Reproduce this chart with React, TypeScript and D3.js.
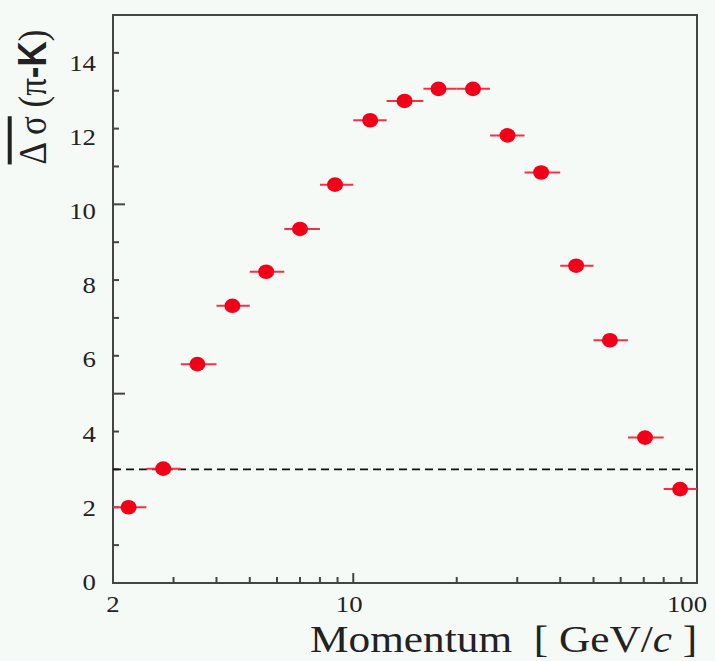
import React from 'react'
import * as d3 from 'd3'

// pion-kaon separation vs momentum
const momentum = [2.22, 2.8, 3.52, 4.45, 5.58, 7.0, 8.85, 11.2, 14.1, 17.7, 22.3, 28.1, 35.2, 44.5, 55.8, 70.6, 89.3]
const separation = [2.0, 3.02, 5.78, 7.32, 8.22, 9.35, 10.52, 12.22, 12.73, 13.05, 13.05, 11.82, 10.84, 8.38, 6.41, 3.84, 2.48]
const binEdges = [2, 2.5, 3.15, 4, 5, 6.3, 8, 10, 12.5, 16, 20, 25, 31.5, 40, 50, 63, 80, 100]

const xTickLabels = [2, 10, 100]
const yTickLabels = [0, 2, 4, 6, 8, 10, 12, 14]
const threshold = 3

const width = 715
const height = 661
const left = 113
const right = 697
const top = 15
const bottom = 583
const stretch = 1.14 // picture is a bit wider than the original

const serif = '"Liberation Serif", "Times New Roman", Times, serif'
const sans = '"Liberation Sans", Arial, Helvetica, sans-serif'
const axisColor = '#444'
const textColor = '#222'
const red = '#f20018'

const App = () => {
  const x = d3.scaleLog().domain([2, 100]).range([left, right])
  const y = d3.scaleLinear().domain([0, 15]).range([bottom, top])
  // tick labels sit on a slightly squeezed scale in the original
  const xLab = d3.scaleLog().domain([2, 100]).range([113, 687])
  const yLab = d3.scaleLinear().domain([0, 14]).range([582, 63])

  const yTicks = d3.range(0, 16)
  const xTicks = [3, 4, 5, 6, 7, 8, 9, 10, 20, 30, 40, 50, 60, 70, 80, 90]

  return (
    <svg width={width} height={height}
      style={{ position: 'absolute', left: 0, top: 0, display: 'block', fontFamily: serif }}>
      <rect width={width} height={height} fill="#f6faf7" />

      {/* frame */}
      <path d={`M${left},${top}H${right}V${bottom}H${left}Z`} fill="none" stroke={axisColor} strokeWidth={2} />

      {/* y ticks */}
      {yTicks.map(t => (
        <line key={'yt' + t} x1={left} x2={left + (t % 5 === 0 ? 12 : 6)} y1={y(t)} y2={y(t)}
          stroke={axisColor} strokeWidth={2} />
      ))}
      {yTickLabels.map(t => (
        <text key={'yl' + t} transform={`translate(96,${yLab(t)}) scale(${stretch},1)`}
          textAnchor="end" dominantBaseline="central" fontSize={23.5} fill={textColor}>{t}</text>
      ))}

      {/* x ticks */}
      {xTicks.map(t => (
        <line key={'xt' + t} x1={x(t)} x2={x(t)} y1={bottom} y2={bottom - (t === 10 ? 10 : 6)}
          stroke={axisColor} strokeWidth={2} />
      ))}
      {xTickLabels.map(t => (
        <text key={'xl' + t} transform={`translate(${xLab(t)},612) scale(${stretch},1)`}
          textAnchor="middle" fontSize={23.5} fill={textColor}>{t}</text>
      ))}

      {/* threshold line */}
      <line x1={left} x2={right} y1={y(threshold)} y2={y(threshold)} stroke="#111"
        strokeWidth={1.8} strokeDasharray="8,5" />

      {/* points with bin-width bars */}
      {momentum.map((m, i) => (
        <g key={'p' + i}>
          <line x1={x(binEdges[i])} x2={x(binEdges[i + 1])} y1={y(separation[i])} y2={y(separation[i])}
            stroke="#ef3345" strokeWidth={2} />
          <ellipse cx={x(m)} cy={y(separation[i])} rx={8} ry={7.3} fill={red} />
        </g>
      ))}

      {/* axis titles */}
      <text transform={`translate(310,652) scale(${stretch},1)`} fontSize={38} fill={textColor}
        style={{ whiteSpace: 'pre' }}>
        {'Momentum  [ GeV/'}<tspan fontStyle="italic">c</tspan>{' ]'}
      </text>

      <text transform={`translate(46,97) scale(${stretch},1) rotate(-90)`} textAnchor="middle"
        fontSize={35} fill={textColor} style={{ whiteSpace: 'pre' }}>
        <tspan style={{ textDecoration: 'overline' }}>{'Δ σ'}</tspan>
        {' (π'}
        <tspan style={{ fontFamily: sans, fontWeight: 'bold' }}>-K</tspan>
        {')'}
      </text>
    </svg>
  )
}

export default App
